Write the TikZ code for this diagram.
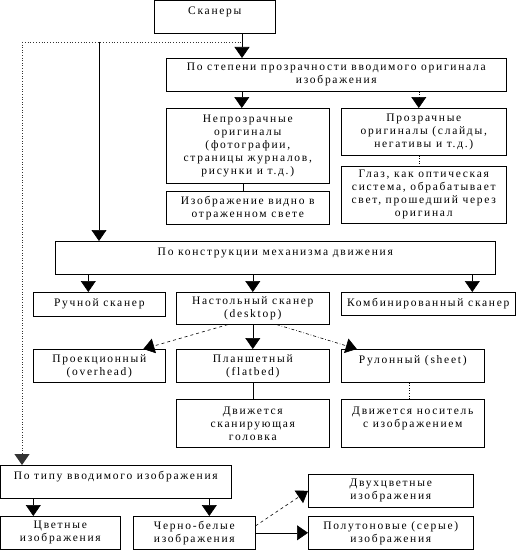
\documentclass[tikz,border=0pt]{standalone}
\usepackage{fontspec}
\setmainfont[LetterSpace=15]{Liberation Serif}
\usetikzlibrary{arrows.meta}
\definecolor{Ink}{HTML}{000000}
\definecolor{Dots}{HTML}{333333}

\begin{document}
\begin{tikzpicture}[x=1pt,y=-1pt,
  box/.style 2 args={draw=Ink,line width=0.6pt,inner sep=0pt,align=center,anchor=north west,minimum width=#1,minimum height=#2,font=\fontsize{11.5}{13}\selectfont},
  arr/.style={-{Triangle[length=11pt,width=15pt]},line width=0.6pt,draw=Ink}]
\useasboundingbox (0,0) rectangle (530,551);
% upper part: transparency
\node[box={121}{33}] (scan) at (154,0) {Сканеры\\~};
\node[box={340}{33}] (stepen) at (166,58) {По степени прозрачности вводимого оригинала\\изображения};
\node[box={163}{75}] (opaque) at (166,108) {Непрозрачные\\оригиналы\\(фотографии,\\страницы журналов,\\рисунки и т.д.)};
\node[box={165}{47}] (transp) at (341,108) {Прозрачные\\оригиналы (слайды,\\негативы и т.д.)};
\node[box={163}{33}] (reflect) at (166,191) {Изображение видно в\\отраженном свете};
\node[box={165}{57}] (eye) at (341,166) {Глаз, как оптическая\\система, обрабатывает\\свет, прошедший через\\оригинал};
% middle part: mechanism
\node[box={440}{33}] (konstr) at (55,241) {По конструкции механизма движения\\~};
\node[box={132}{24}] (hand) at (33,292) {Ручной сканер};
\node[box={153}{32}] (desk) at (176,292) {Настольный сканер\\(desktop)};
\node[box={174}{23}] (combo) at (341,292) {Комбинированный сканер};
\node[box={132}{33}] (overhead) at (33,349) {Проекционный\\(overhead)};
\node[box={153}{33}] (flat) at (176,349) {Планшетный\\(flatbed)};
\node[box={143}{33}] (sheet) at (341,349) {Рулонный (sheet)\\~};
\node[box={153}{48}] (head) at (176,399) {Движется\\сканирующая\\головка};
\node[box={143}{48}] (carrier) at (341,399) {Движется носитель\\с изображением\\~};
% lower part: image type
\node[box={231}{33}] (imgtype) at (0,465) {По типу вводимого изображения\\~};
\node[box={120}{33}] (color) at (0,516) {Цветные\\изображения};
\node[box={122}{33}] (bw) at (133,516) {Черно-белые\\изображения};
\node[box={165}{33}] (twotone) at (308,474) {Двухцветные\\изображения};
\node[box={165}{33}] (gray) at (308,516) {Полутоновые (серые)\\изображения};
\coordinate (fork) at (242,42);
\coordinate (middrop) at (99,42);
\coordinate (leftdrop) at (22,42);
% connectors
\draw[arr] (scan.south -| fork) -- (stepen.north -| fork);
\draw[Dots,dotted,line width=0.8pt] (leftdrop) -- (fork);
\draw[arr] (middrop) -- (konstr.north -| middrop);
\draw[arr,Dots,dotted,line width=0.8pt] (leftdrop) -- (imgtype.north -| leftdrop);
\draw[arr] ([xshift=-6pt]stepen.south -| opaque.north) -- ([xshift=-6pt]opaque.north);
\draw[arr,dotted] ([xshift=-5pt]stepen.south -| transp.north) -- ([xshift=-5pt]transp.north);
\draw[line width=0.6pt] ([xshift=-5pt]opaque.south) -- ([xshift=-5pt]reflect.north);
\draw[dotted,line width=0.6pt] ([xshift=-5pt]transp.south) -- ([xshift=-5pt]eye.north);
\draw[arr] ([xshift=-11pt]konstr.south -| hand.north) -- ([xshift=-11pt]hand.north);
\draw[arr] ([xshift=0pt]konstr.south -| desk.north) -- ([xshift=0pt]desk.north);
\draw[arr] ([xshift=44pt]konstr.south -| combo.north) -- ([xshift=44pt]combo.north);
\draw[arr,dashed] ([xshift=-25pt]desk.south) -- ([xshift=44pt]overhead.north);
\draw[arr] (desk.south) -- (flat.north);
\draw[arr,dash dot] ([xshift=24pt]desk.south) -- ([xshift=-56pt]sheet.north);
\draw[line width=0.6pt] (flat.south) -- (head.north);
\draw[dotted,line width=0.6pt] ([xshift=-4pt]sheet.south) -- ([xshift=-4pt]carrier.north);
\draw[arr] ([xshift=-27pt]imgtype.south -| color.north) -- ([xshift=-27pt]color.north);
\draw[arr] ([xshift=15pt]imgtype.south -| bw.north) -- ([xshift=15pt]bw.north);
\draw[arr,dashed] ([yshift=7pt]bw.east) -- (twotone.west);
\draw[arr] (bw.east |- gray.west) -- (gray.west);
\end{tikzpicture}
\end{document}
